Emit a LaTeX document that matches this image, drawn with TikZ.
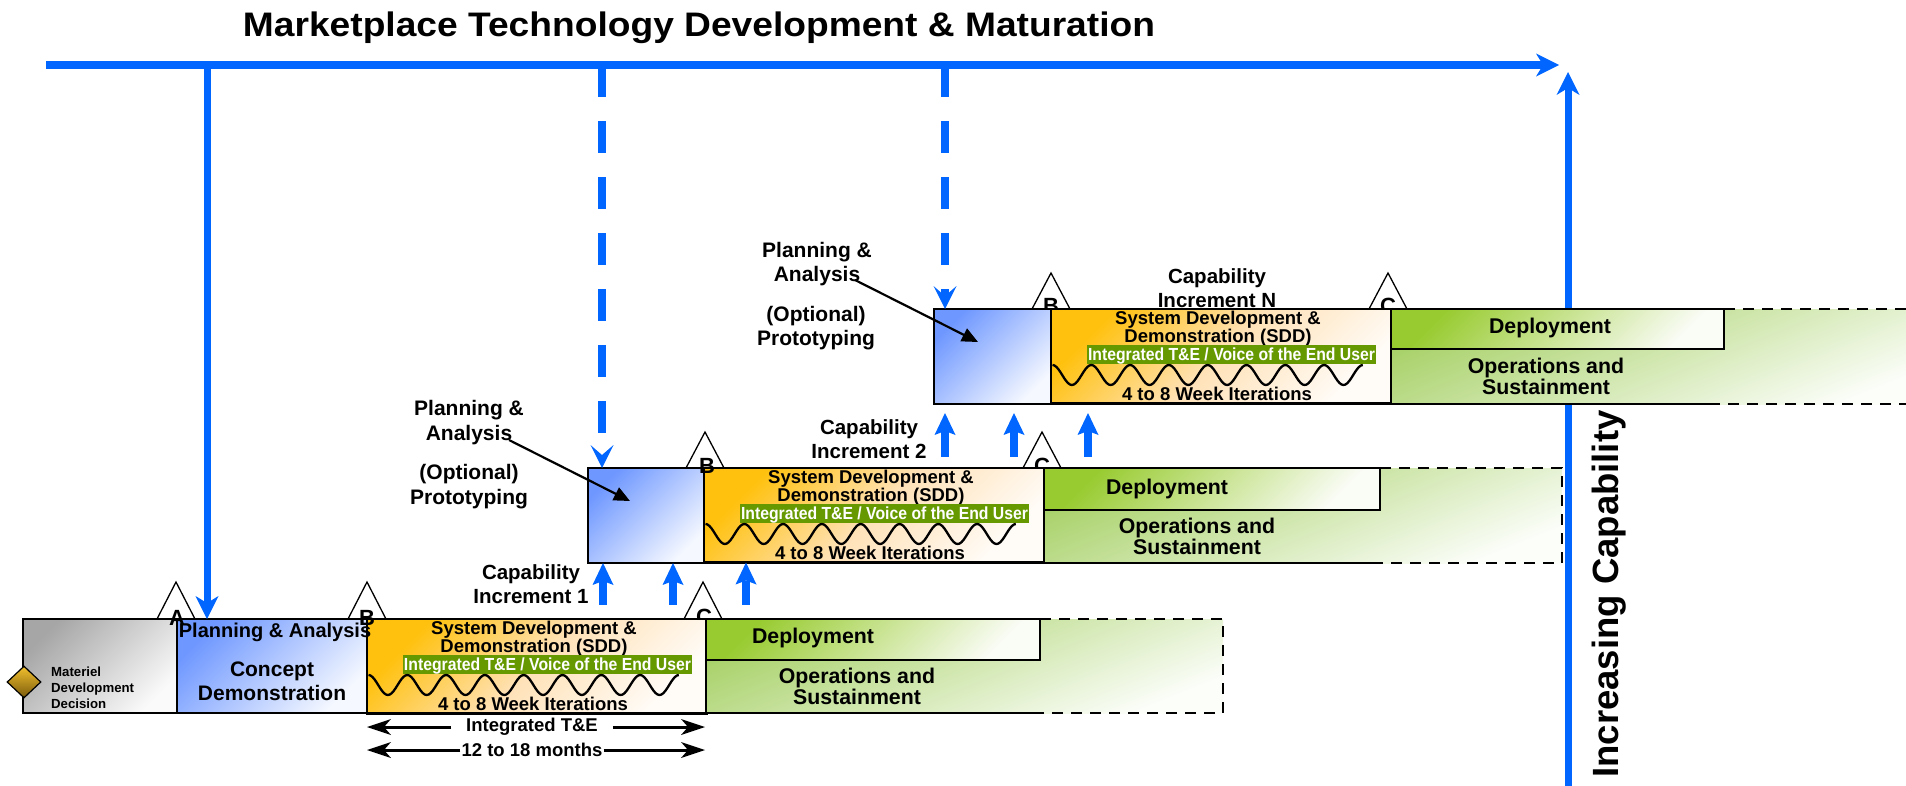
\documentclass[tikz,border=0pt]{standalone}
\usepackage{fontspec}
\setmainfont{Liberation Sans}
\usepackage{graphicx}
\usetikzlibrary{arrows.meta,shapes.geometric}

\definecolor{lineblue}{HTML}{0066FF}
\definecolor{boxblueA}{HTML}{6E97FF}
\definecolor{boxblueB}{HTML}{F5F8FF}
\definecolor{grayA}{HTML}{A6A6A6}
\definecolor{grayB}{HTML}{FAFAFA}
\definecolor{sddA}{HTML}{FFC10E}
\definecolor{sddM}{HTML}{FFE2B8}
\definecolor{sddB}{HTML}{FFFBF6}
\definecolor{grnA}{HTML}{98CB30}
\definecolor{grnB}{HTML}{FAFCF6}
\definecolor{areaA}{HTML}{A6D065}
\definecolor{areaB}{HTML}{FCFEFA}
\definecolor{barGreen}{HTML}{669900}
\definecolor{goldA}{HTML}{F2C12E}
\definecolor{goldB}{HTML}{7A5A0C}

\newcommand\fsz[2]{\fontsize{#1}{#2}\selectfont\bfseries}

\tikzset{
  boxbase/.style={draw=black, line width=2.5pt, anchor=north west, inner sep=0pt, outer sep=0pt},
  graybox/.style={boxbase, top color=grayA, bottom color=grayB, shading angle=45},
  bluebox/.style={boxbase, top color=boxblueA, bottom color=boxblueB, shading angle=45},
  sddbox/.style={boxbase, top color=sddA, bottom color=sddB, middle color=sddM, shading angle=45},
  depbox/.style={boxbase, top color=grnA, bottom color=grnB, shading angle=45},
  areabox/.style={anchor=north west, inner sep=0pt, outer sep=0pt, top color=areaA, bottom color=areaB, shading angle=22},
  gbar/.style={anchor=north west, fill=barGreen, inner sep=0pt, outer sep=0pt},
  solidedge/.style={draw=black, line width=2.5pt},
  dashedge/.style={draw=black, line width=2.5pt, dash pattern=on 11pt off 8pt},
  mstone/.style={draw=black, fill=white, line width=1.3pt},
  letter/.style={anchor=base, inner sep=0pt, font={\fsz{22}{22}}},
  lbl/.style={align=center, inner sep=0pt},
  sddtxt/.style={lbl, font={\fsz{18.5}{18}}},
  bartxt/.style={anchor=base, inner sep=0pt, text=white, font={\fsz{17.5}{18}}},
  itertxt/.style={anchor=base, inner sep=0pt, font={\fsz{18.5}{18}}},
  deptxt/.style={anchor=base, inner sep=0pt, font={\fsz{21.3}{21}}},
  opstxt/.style={lbl, font={\fsz{21.3}{21}}},
  captxt/.style={lbl, font={\fsz{20.5}{24}}},
  plantxt/.style={lbl, font={\fsz{21}{24.5}}},
  wave/.style={draw=black, line width=2.3pt},
  bluemain/.style={draw=lineblue, line width=8pt, -{Stealth[length=23pt,width=23pt,inset=7pt,line width=0pt]}},
  bluevert/.style={draw=lineblue, line width=7pt, -{Stealth[length=23pt,width=23pt,inset=7pt,line width=0pt]}},
  bluedash/.style={draw=lineblue, line width=8pt, dash pattern=on 32pt off 24pt, -{Stealth[length=23pt,width=23pt,inset=10pt,line width=0pt]}},
  blueup/.style={draw=lineblue, line width=8pt, -{Stealth[length=22pt,width=21pt,inset=4pt,line width=0pt]}},
  pointer/.style={draw=black, line width=2.2pt, -{Triangle[length=16pt,width=14pt]}},
  spanarrow/.style={draw=black, line width=3pt, -{Stealth[length=24pt,width=16pt,inset=7pt,line width=0pt]}},
}

\newcommand\sddunit[3]{%
  \node[sddbox, minimum width=340pt, minimum height=94.5pt] (sdd#1) at (#2,#3) {};
  \begin{scope}[shift={(#2,#3)}]
    \node[sddtxt] (sddt#1) at (167,19.5) {System Development \&\\Demonstration (SDD)};
    \node[gbar, minimum width=289pt, minimum height=19pt] (gbar#1) at (36,35.5) {};
    \node[bartxt] (bart#1) at (180.5,51) {\resizebox{287pt}{\height}{Integrated T\&E / Voice of the End User}};
    \draw[wave] plot[domain=0:8, samples=161, smooth] ({1.5+38.8*\x},{66-10*cos(360*\x)});
    \node[itertxt] (iter#1) at (166,91) {4 to 8 Week Iterations};
  \end{scope}}

\begin{document}
\begin{tikzpicture}[x=1pt,y=-1pt]
\useasboundingbox (0,0) rectangle (1906,785);
\clip (0,0) rectangle (1906,785);

% title
\node[anchor=base, inner sep=0pt, font={\fsz{34}{36}}] (title) at (699,36.7)
  {\resizebox{912pt}{\height}{Marketplace Technology Development \& Maturation}};

% main blue axes
\coordinate (hl0) at (46,65);
\coordinate (hl1) at (1559,65);
\draw[bluemain] (hl0) -- (hl1);
\coordinate (vl0) at (1568,800);
\coordinate (vl1) at (1568,72);
\draw[bluevert] (vl0) -- (vl1);
\node[rotate=90, inner sep=0pt, font={\fsz{36.5}{40}}] (inccap) at (1609,594) {Increasing Capability};

% milestones
\draw[mstone] (157,619) -- (176,582) -- (195,619) -- cycle;
\draw[mstone] (348,619) -- (367,582) -- (386,619) -- cycle;
\draw[mstone] (684,619) -- (703,582) -- (722,619) -- cycle;
\draw[mstone] (686,468) -- (705,432) -- (724,468) -- cycle;
\draw[mstone] (1023,468) -- (1042,432) -- (1061,468) -- cycle;
\draw[mstone] (1032,309) -- (1051,273) -- (1070,309) -- cycle;
\draw[mstone] (1369,309) -- (1388,273) -- (1407,309) -- cycle;

% letters partly under boxes
\node[letter] (r3B) at (1051,313) {B};
\node[letter] (r3C) at (1388,313) {C};
\node[captxt] (capN) at (1217,288.5) {Capability\\Increment N};
\node[letter] (r1C) at (704,624) {C};
\node[letter] (r2C) at (1042,473) {C};

% ---------- row 1 ----------
\node[graybox, minimum width=154pt, minimum height=94pt] (mdd) at (23,619) {};
\node[bluebox, minimum width=190pt, minimum height=94pt] (bp1) at (177,619) {};
\sddunit{1}{367}{619}
\node[areabox, minimum width=517pt, minimum height=94pt] (ga1) at (706,619) {};
\node[depbox, minimum width=334pt, minimum height=41pt] (dep1) at (706,619) {};
\draw[solidedge] (dep1.south west) -- (ga1.south west) -- ++(328,0) coordinate (ga1s);
\draw[dashedge] (dep1.north east) -- (ga1.north east) -- (ga1.south east) -- (ga1s);

% ---------- row 2 ----------
\node[bluebox, minimum width=116pt, minimum height=95pt] (bp2) at (588,468) {};
\sddunit{2}{704}{468}
\node[areabox, minimum width=518pt, minimum height=95pt] (ga2) at (1044,468) {};
\node[depbox, minimum width=336pt, minimum height=42pt] (dep2) at (1044,468) {};
\draw[solidedge] (dep2.south west) -- (ga2.south west) -- ++(330,0) coordinate (ga2s);
\draw[dashedge] (dep2.north east) -- (ga2.north east) -- (ga2.south east) -- (ga2s);

% ---------- row 3 ----------
\node[bluebox, minimum width=117pt, minimum height=95pt] (bp3) at (934,309) {};
\sddunit{3}{1051}{309}
\node[areabox, minimum width=540pt, minimum height=95pt] (ga3) at (1391,309) {};
\node[depbox, minimum width=333pt, minimum height=40pt] (dep3) at (1391,309) {};
\draw[solidedge] (dep3.south west) -- (ga3.south west) -- ++(322,0) coordinate (ga3s);
\draw[dashedge] (dep3.north east) -- (ga3.north east) -- (ga3.south east) -- (ga3s);

% decision diamond and texts of row 1
\node[draw=black, line width=1.2pt, diamond, minimum width=34pt, minimum height=32pt, inner sep=0pt,
      top color=goldA, bottom color=goldB] (mddmark) at (24,682) {};
\node[anchor=west, align=left, inner sep=0pt, font={\fsz{13.2}{16}}] (mddtxt) at (51,688) {Materiel\\Development\\Decision};
\node[anchor=base, inner sep=0pt, font={\fsz{20}{20}}] (pa1) at (275,637) {Planning \& Analysis};
\node[lbl, font={\fsz{21}{24}}] (cd1) at (272,681) {Concept\\Demonstration};

% letters on top
\node[letter] (r1A) at (177,625) {A};
\node[letter] (r1B) at (367,625) {B};
\node[letter] (r2B) at (707,473) {B};

% green texts
\node[deptxt] (dt1) at (813,643) {Deployment};
\node[opstxt] (ot1) at (857,686.5) {Operations and\\Sustainment};
\node[deptxt] (dt2) at (1167,494) {Deployment};
\node[opstxt] (ot2) at (1197,536.5) {Operations and\\Sustainment};
\node[deptxt] (dt3) at (1550,333) {Deployment};
\node[opstxt] (ot3) at (1546,376.5) {Operations and\\Sustainment};

% capability labels
\node[captxt] (cap1) at (531,584) {Capability\\Increment 1};
\node[captxt] (cap2) at (869,439) {Capability\\Increment 2};

% planning labels with pointers
\node[plantxt] (pl2) at (469,422.5) {Planning \&\\Analysis};
\node[plantxt] (op2) at (469,486.5) {(Optional)\\Prototyping};
\node[plantxt] (pl3) at (817,264) {Planning \&\\Analysis};
\node[plantxt] (op3) at (816,328) {(Optional)\\Prototyping};
\coordinate (pl2s) at (509,440);
\coordinate (pl2t) at (630,501);
\draw[pointer] (pl2s) -- (pl2t);
\coordinate (pl3s) at (855,280);
\coordinate (pl3t) at (978,342);
\draw[pointer] (pl3s) -- (pl3t);

% blue feeds from the marketplace line
\coordinate (d0) at (207,65);
\coordinate (d2) at (602,65);
\coordinate (d3) at (945,65);
\draw[bluevert] (d0) -- (d0 |- bp1.north);
\draw[bluedash] (d2) -- (d2 |- bp2.north);
\draw[bluedash] (d3) -- (d3 |- bp3.north);

% capability up arrows
\coordinate (u1a) at (603,605);
\coordinate (u1b) at (673,605);
\coordinate (u1c) at (746,605);
\draw[blueup] (u1a) -- (u1a |- bp2.south);
\draw[blueup] (u1b) -- (u1b |- bp2.south);
\draw[blueup] (u1c) -- (u1c |- sdd2.south);
\coordinate (u2a) at (945,457);
\coordinate (u2b) at (1014,457);
\coordinate (u2c) at (1088,457);
\coordinate (u2at) at (945,413);
\coordinate (u2bt) at (1014,413);
\coordinate (u2ct) at (1088,413);
\draw[blueup] (u2a) -- (u2at);
\draw[blueup] (u2b) -- (u2bt);
\draw[blueup] (u2c) -- (u2ct);

% span arrows under row 1
\node[inner xsep=15pt, inner ysep=0pt, font={\fsz{18.5}{18}}] (ite) at (532,727) {Integrated T\&E};
\coordinate (iteL) at (367,728);
\coordinate (iteR) at (705,728);
\draw[spanarrow] (ite.west) -- (ite.west -| iteL);
\draw[spanarrow] (ite.east) -- (ite.east -| iteR);
\node[inner xsep=1pt, inner ysep=0pt, font={\fsz{18.5}{18}}] (mon) at (532,750) {12 to 18 months};
\draw[spanarrow] (mon.west) -- (mon.west -| iteL);
\draw[spanarrow] (mon.east) -- (mon.east -| iteR);
\end{tikzpicture}
\end{document}
